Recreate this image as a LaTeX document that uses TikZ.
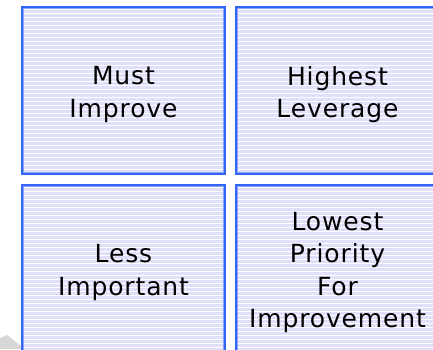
\documentclass[tikz,border=0pt]{standalone}
\usepackage{fontspec}
\newfontfamily\quadfont[LetterSpace=3.5]{DejaVu Sans}
\definecolor{lavender}{RGB}{224,224,250}
\definecolor{edgeblue}{RGB}{50,100,245}
\definecolor{edgelight}{RGB}{140,165,250}
\definecolor{smudge}{RGB}{215,215,215}
\tikzset{
  quad/.style={
    rectangle, minimum width=203pt, minimum height=167pt, inner sep=0pt,
    fill=lavender, draw=edgeblue, line width=1.8pt,
    path picture={
      \foreach \k in {0,...,42}{
        \draw[white, line width=1pt]
          ([yshift={-2pt-\k*4pt}]path picture bounding box.north west) --
          ([yshift={-2pt-\k*4pt}]path picture bounding box.north east);
      }
      \draw[edgelight, line width=3.8pt]
        (path picture bounding box.north west) rectangle
        (path picture bounding box.south east);
    }
  },
  quadtext/.style={
    inner sep=0pt, align=center, text=black,
    font=\quadfont\fontsize{25pt}{32.5pt}\selectfont
  }
}
\begin{document}
\begin{tikzpicture}[x=1pt, y=-1pt]
  \useasboundingbox[fill=white] (0,0) rectangle (433,349);
  % faint grey mark in the lower left corner
  \fill[smudge] (0,338) -- (7,335) -- (25,349) -- (0,349) -- cycle;
  \begin{scope}
    \clip (0,0) rectangle (433,349);
    \node[quad] (must)    at (123.5, 90.5) {};
    \node[quad] (highest) at (337.5, 90.5) {};
    \node[quad] (less)    at (123.5, 268.5) {};
    \node[quad] (lowest)  at (337.5, 268.5) {};
  \end{scope}
  \node[quadtext] (must-text)    at ([yshift=-4pt]must.center)    {Must\\Improve};
  \node[quadtext] (highest-text) at ([yshift=-4pt]highest.center) {Highest\\Leverage};
  \node[quadtext] (less-text)    at ([yshift=-4pt]less.center)    {Less\\Important};
  \node[quadtext] (lowest-text)  at ([yshift=-4pt]lowest.center)  {Lowest\\Priority\\For\\Improvement};
\end{tikzpicture}
\end{document}
